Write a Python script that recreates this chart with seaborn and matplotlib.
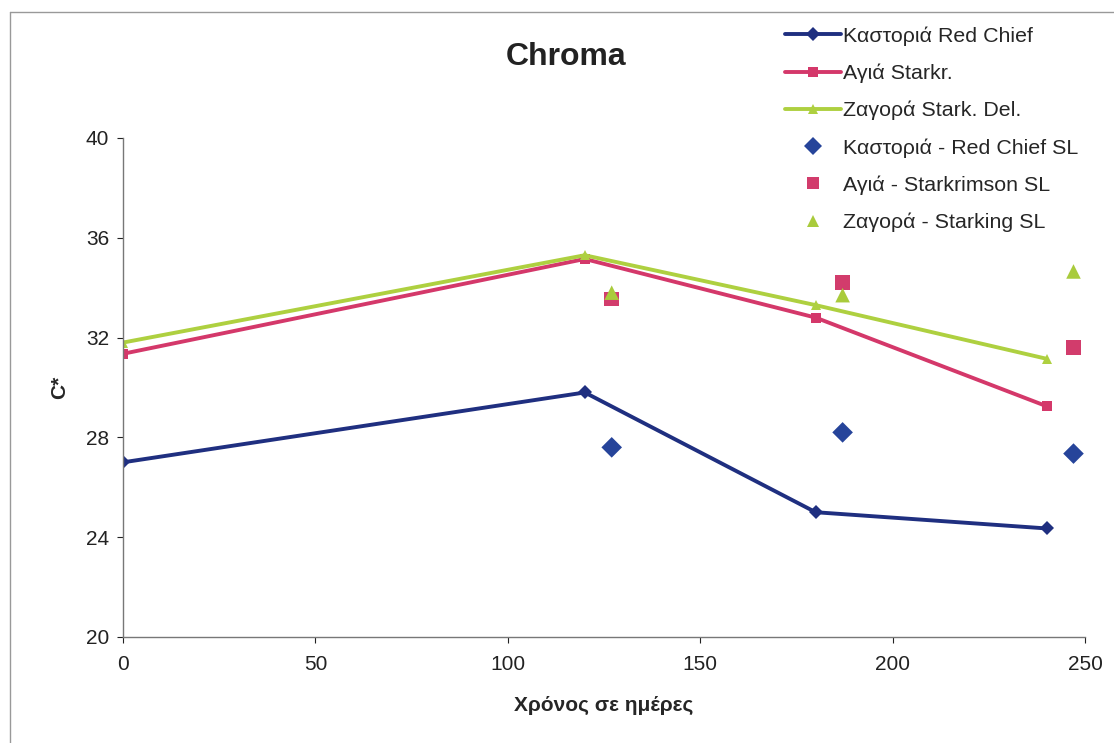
import numpy as np
import pandas as pd
import matplotlib
matplotlib.use("Agg")
import matplotlib.pyplot as plt
from matplotlib.lines import Line2D
import seaborn as sns

# Storage time (days) and chroma values
days = [0, 120, 180, 240]
kastoria = [27.0, 29.8, 25.0, 24.35]
agia = [31.35, 35.15, 32.8, 29.25]
zagora = [31.8, 35.3, 33.3, 31.15]

sl_days = [127, 187, 247]
kastoria_sl = [27.6, 28.2, 27.35]
agia_sl = [33.55, 34.2, 31.6]
zagora_sl = [33.8, 33.7, 34.65]

line_names = ["Καστοριά Red Chief", "Αγιά Starkr.", "Ζαγορά Stark. Del."]
sl_names = ["Καστοριά - Red Chief SL", "Αγιά - Starkrimson SL", "Ζαγορά - Starking SL"]
y_ticks = [20, 24, 28, 32, 36, 40]
x_ticks = [0, 50, 100, 150, 200, 250]

line_colors = ["#1f2f80", "#d4386a", "#aed040"]
sl_colors = ["#26449a", "#d23c6c", "#a9cb3c"]
line_markers = ["D", "s", "^"]

lines_df = pd.concat([
    pd.DataFrame({"day": days, "C": vals, "series": name})
    for name, vals in zip(line_names, [kastoria, agia, zagora])
])
sl_df = pd.concat([
    pd.DataFrame({"day": sl_days, "C": vals, "series": name})
    for name, vals in zip(sl_names, [kastoria_sl, agia_sl, zagora_sl])
])

sns.set_theme(style="white")
plt.rcParams["font.family"] = ["Liberation Sans", "DejaVu Sans"]

fig = plt.figure(figsize=(11.14, 7.43), dpi=100)
ax = fig.add_axes([0.1104, 0.1427, 0.8636, 0.6716])

sns.lineplot(data=lines_df, x="day", y="C", hue="series", style="series",
             hue_order=line_names, palette=line_colors,
             markers=dict(zip(line_names, line_markers)),
             dashes=False, linewidth=2.8, markersize=7,
             markeredgewidth=0, ax=ax, legend=False, sort=False)
sns.scatterplot(data=sl_df, x="day", y="C", hue="series", style="series",
                hue_order=sl_names, palette=sl_colors,
                markers=dict(zip(sl_names, line_markers)),
                s=110, linewidth=0, ax=ax, legend=False)

ax.set_xlim(0, 250)
ax.set_ylim(20, 40)
ax.set_xticks(x_ticks)
ax.set_yticks(y_ticks)
ax.tick_params(axis="both", labelsize=15, colors="#222222", length=4,
               width=0.8, direction="out", bottom=True, left=True, pad=6)
ax.tick_params(axis="x", pad=9)
for side in ["top", "right"]:
    ax.spines[side].set_visible(False)
for side in ["left", "bottom"]:
    ax.spines[side].set_color("#777777")
    ax.spines[side].set_linewidth(1.0)
ax.grid(False)

ax.set_xlabel("Χρόνος σε ημέρες", fontsize=15, fontweight="bold", labelpad=16)
ax.set_ylabel("C*", fontsize=15, fontweight="bold", labelpad=12)

fig.text(0.508, 0.923, "Chroma", ha="center", va="center",
         fontsize=23, fontweight="bold", color="#222222")

# Legend: three connected series, then the three SL point sets
handles = [
    Line2D([], [], color=c, marker=m, markersize=7, linewidth=2.8,
           markeredgewidth=0)
    for c, m in zip(line_colors, line_markers)
] + [
    Line2D([], [], color=c, marker=m, markersize=9, linestyle="none",
           markeredgewidth=0)
    for c, m in zip(sl_colors, line_markers)
]
fig.legend(handles, line_names + sl_names, loc="upper left",
           bbox_to_anchor=(0.697, 0.976), frameon=False, fontsize=15.4,
           handlelength=2.6, handletextpad=0.1, labelspacing=0.83,
           borderaxespad=0)

# Chart-area border
fig.add_artist(Line2D([10 / 1114, 10 / 1114], [0, 1 - 12 / 743],
                      transform=fig.transFigure, color="#999999", lw=1))
fig.add_artist(Line2D([10 / 1114, 1], [1 - 12 / 743, 1 - 12 / 743],
                      transform=fig.transFigure, color="#999999", lw=1))

fig.savefig("out.png", dpi=100)
